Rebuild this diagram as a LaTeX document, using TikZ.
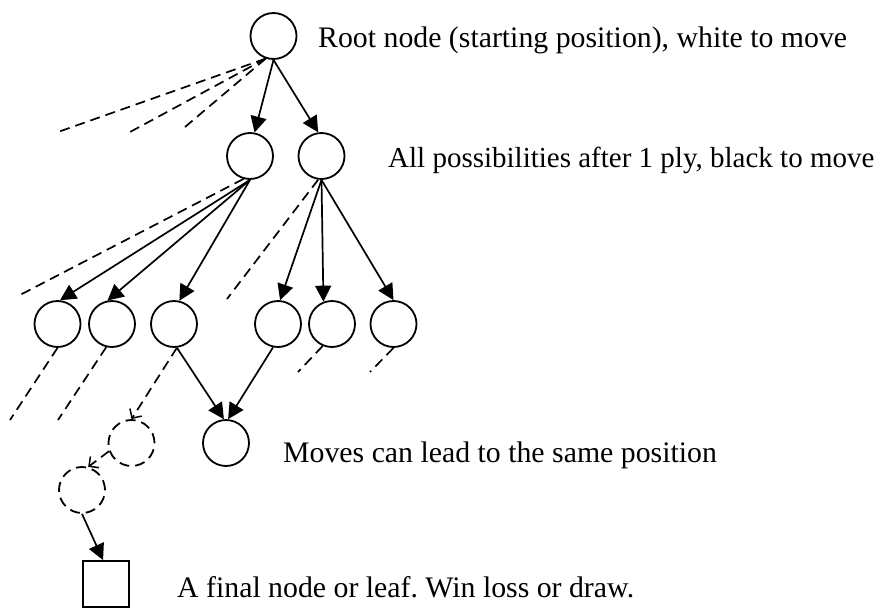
\documentclass[tikz,border=0pt]{standalone}
\usepackage{fontspec}
\setmainfont{Liberation Serif}
\usetikzlibrary{arrows.meta}
\frenchspacing
\begin{document}
\begin{tikzpicture}[x=1pt,y=-1pt,
  state/.style={circle,draw,line width=1.8pt,minimum size=46pt,inner sep=0pt},
  ghost/.style={state,dash pattern=on 10pt off 6pt},
  leafbox/.style={rectangle,draw,line width=1.8pt,minimum size=46pt,inner sep=0pt},
  move/.style={line width=1.7pt,-{Triangle[length=16pt,width=16pt]}},
  other/.style={line width=1.7pt,dash pattern=on 10pt off 6pt},
  otherarrow/.style={other,-{Straight Barb[length=7pt,width=14pt,line width=1.5pt]}},
  caption/.style={anchor=base west,font=\fontsize{29.8}{30}\selectfont,inner sep=0pt},
  smallcaption/.style={caption,font=\fontsize{29}{30}\selectfont}]
\useasboundingbox (0,0) rectangle (887,608);

% nodes
\node[state] (root) at (273.5,36) {};
\node[state] (l1a) at (250,156) {};
\node[state] (l1b) at (321.5,156) {};
\node[state] (a) at (57.5,324) {};
\node[state] (b) at (112,324) {};
\node[state] (c) at (174,324) {};
\node[state] (d) at (278,324) {};
\node[state] (e) at (332,324) {};
\node[state] (f) at (393.5,324) {};
\node[state] (m) at (226,443) {};
\node[ghost] (g1) at (131.5,443) {};
\node[ghost] (g2) at (82,490) {};
\node[leafbox] (leaf) at (106,584) {};

% free ends of the other moves
\coordinate (r1) at (58,132);
\coordinate (r2) at (130,132);
\coordinate (r3) at (185,127);
\coordinate (la1) at (18,296);
\coordinate (lb1) at (227,299);
\coordinate (a1) at (10,420);
\coordinate (b1) at (58,420);
\coordinate (e1) at (298,372);
\coordinate (f1) at (370,372);

% solid moves
\draw[move] (root.south) -- (l1a.79);
\draw[move] (root.south) -- (l1b.98);
\draw[move] (l1a.south) -- (a.84);
\draw[move] (l1a.south) -- (b.101);
\draw[move] (l1a.south) -- (c.77);
\draw[move] (l1b.south) -- (d.85);
\draw[move] (l1b.south) -- (e.111);
\draw[move] (l1b.south) -- (f.north);
\draw[move] (c.277) -- (m.95);
\draw[move] (d.258) -- (m.85);
\draw[move] (g2.south) -- (leaf.97);

% dashed moves
\draw[other] (root.251) -- (r1);
\draw[other] (root.251) -- (r2);
\draw[other] (root.251) -- (r3);
\draw[other] (l1a.254) -- (la1);
\draw[other] (l1b.262) -- (lb1);
\draw[other] (a.south) -- (a1);
\draw[other] (b.256) -- (b1);
\draw[other] (e.247) -- (e1);
\draw[other] (f.south) -- (f1);
\draw[otherarrow] (c.277) -- (g1.north);
\draw[otherarrow] (g1.200) -- (g2.75);

% captions
\node[caption] (t1) at (318,47) {Root node (starting position), white to move};
\node[smallcaption] (t2) at (388,167) {All possibilities after 1 ply, black to move};
\node[caption] (t3) at (283,462) {Moves can lead to the same position};
\node[caption] (t4) at (177,597) {A final node or leaf. Win loss or draw.};
\end{tikzpicture}
\end{document}
